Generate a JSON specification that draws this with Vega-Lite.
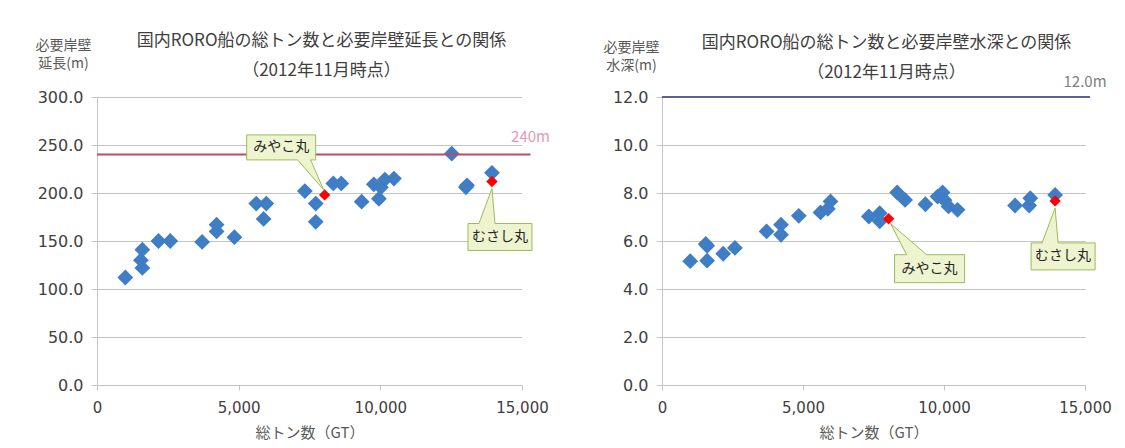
{
  "$schema": "https://vega.github.io/schema/vega-lite/v6.json",
  "background": "white",
  "padding": {"left": 35, "top": 32, "right": 0, "bottom": 0},
  "spacing": 140,
  "bounds": "flush",
  "datasets": {
    "ships": [
      {"gt": 1000, "len": 112, "depth": 5.16, "name": null},
      {"gt": 1550, "len": 130, "depth": 5.88, "name": null},
      {"gt": 1600, "len": 141, "depth": 5.8, "name": null},
      {"gt": 1600, "len": 122, "depth": 5.18, "name": null},
      {"gt": 2170, "len": 150, "depth": 5.47, "name": null},
      {"gt": 2585, "len": 150, "depth": 5.71, "name": null},
      {"gt": 3710, "len": 149, "depth": 6.4, "name": null},
      {"gt": 4220, "len": 167, "depth": 6.68, "name": null},
      {"gt": 4220, "len": 160, "depth": 6.26, "name": null},
      {"gt": 4850, "len": 154, "depth": 7.05, "name": null},
      {"gt": 5620, "len": 189, "depth": 7.19, "name": null},
      {"gt": 5975, "len": 189, "depth": 7.65, "name": null},
      {"gt": 5880, "len": 173, "depth": 7.34, "name": null},
      {"gt": 7335, "len": 202, "depth": 7.02, "name": null},
      {"gt": 7720, "len": 189, "depth": 7.16, "name": null},
      {"gt": 7720, "len": 170, "depth": 6.82, "name": null},
      {"gt": 8035, "len": 198, "depth": 6.93, "name": "みやこ丸"},
      {"gt": 8340, "len": 210, "depth": 8.02, "name": null},
      {"gt": 8620, "len": 210, "depth": 7.71, "name": null},
      {"gt": 9340, "len": 191, "depth": 7.53, "name": null},
      {"gt": 9770, "len": 209, "depth": 7.85, "name": null},
      {"gt": 9950, "len": 194, "depth": 8.02, "name": null},
      {"gt": 10020, "len": 206, "depth": 7.7, "name": null},
      {"gt": 10160, "len": 214, "depth": 7.44, "name": null},
      {"gt": 10480, "len": 215, "depth": 7.3, "name": null},
      {"gt": 12520, "len": 241, "depth": 7.48, "name": null},
      {"gt": 13020, "len": 206, "depth": 7.48, "name": null},
      {"gt": 13060, "len": 208, "depth": 7.78, "name": null},
      {"gt": 13940, "len": 221, "depth": 7.92, "name": null},
      {"gt": 13940, "len": 212, "depth": 7.67, "name": "むさし丸"}
    ]
  },
  "config": {
    "view": {"stroke": null},
    "font": "Noto Sans CJK JP",
    "axis": {
      "gridColor": "#c4c4c4",
      "domainColor": "#c4c4c4",
      "tickColor": "#c4c4c4",
      "labelFont": "DejaVu Sans",
      "labelColor": "#404040",
      "titleFont": "Noto Sans CJK JP",
      "titleFontWeight": "normal",
      "titleColor": "#595959"
    },
    "title": {"font": "Noto Sans CJK JP", "fontWeight": "normal", "color": "#404040", "fontSize": 17, "lineHeight": 30}
  },
  "hconcat": [
    {
      "width": 425,
      "height": 288,
      "data": {"name": "ships"},
      "title": {"text": ["国内RORO船の総トン数と必要岸壁延長との関係", "（2012年11月時点）"], "frame": "group", "anchor": "middle", "dx": 12, "offset": -42},
      "layer": [
        {
          "transform": [{"filter": "!datum.name"}],
          "mark": {"type": "point", "shape": "diamond", "size": 250, "filled": true, "color": "#3f7dc4", "opacity": 1},
          "encoding": {
            "x": {"field": "gt", "type": "quantitative", "scale": {"domain": [0, 15000], "nice": false},
              "axis": {"values": [0, 5000, 10000, 15000], "labelExpr": "format(datum.value, ',')", "title": "総トン数（GT）", "titleFontSize": 15, "titlePadding": 10, "labelFontSize": 15, "labelPadding": 10, "tickSize": 5, "grid": false, "labelFlush": false}},
            "y": {"field": "len", "type": "quantitative", "scale": {"domain": [0, 300], "nice": false},
              "axis": {"values": [0, 50, 100, 150, 200, 250, 300], "labelExpr": "format(datum.value, '.1f')", "title": ["必要岸壁", "延長(m)"], "titleAngle": 0, "titleX": -34, "titleY": -59, "titleAlign": "center", "titleBaseline": "top", "titleFontSize": 14, "titleLineHeight": 18, "labelFontSize": 16, "labelPadding": 8, "tickSize": 6, "grid": true}}
          }
        },
        {
          "data": {"values": [{}]},
          "mark": {"type": "rule", "color": "#bf4a64", "strokeWidth": 2},
          "encoding": {"x": {"datum": 0}, "x2": {"datum": 15300}, "y": {"datum": 240}}
        },
        {
          "data": {"values": [{}]},
          "mark": {"type": "text", "color": "#e39ab0", "fontSize": 15, "dy": -18},
          "encoding": {"x": {"datum": 15300}, "y": {"datum": 240}, "text": {"value": "240m"}}
        },
        {
          "transform": [{"filter": "datum.name"}],
          "mark": {"type": "point", "shape": "diamond", "size": 130, "filled": true, "color": "#ff0000", "opacity": 1},
          "encoding": {"x": {"field": "gt", "type": "quantitative"}, "y": {"field": "len", "type": "quantitative"}}
        },
        {
          "transform": [{"filter": "datum.name == 'みやこ丸'"}],
          "mark": {"type": "point", "shape": "M-78,-60 L-9,-60 L-9,-35 L-14,-35 L-1,-5 L-27,-35 L-78,-35 Z", "size": 4, "filled": true, "fill": "#edf4cf", "stroke": "#9bbb59", "strokeWidth": 1, "fillOpacity": 1, "strokeOpacity": 1},
          "encoding": {"x": {"field": "gt", "type": "quantitative"}, "y": {"field": "len", "type": "quantitative"}}
        },
        {
          "transform": [{"filter": "datum.name == 'みやこ丸'"}],
          "mark": {"type": "text", "dx": -43.5, "dy": -47.5, "fontSize": 14, "color": "#262626"},
          "encoding": {"x": {"field": "gt", "type": "quantitative"}, "y": {"field": "len", "type": "quantitative"}, "text": {"field": "name"}}
        },
        {
          "transform": [{"filter": "datum.name == 'むさし丸'"}],
          "mark": {"type": "point", "shape": "M-24,42 L-13,42 L0,7 L3,42 L40,42 L40,69 L-24,69 Z", "size": 4, "filled": true, "fill": "#edf4cf", "stroke": "#9bbb59", "strokeWidth": 1, "fillOpacity": 1, "strokeOpacity": 1},
          "encoding": {"x": {"field": "gt", "type": "quantitative"}, "y": {"field": "len", "type": "quantitative"}}
        },
        {
          "transform": [{"filter": "datum.name == 'むさし丸'"}],
          "mark": {"type": "text", "dx": 8, "dy": 55.5, "fontSize": 14, "color": "#262626"},
          "encoding": {"x": {"field": "gt", "type": "quantitative"}, "y": {"field": "len", "type": "quantitative"}, "text": {"field": "name"}}
        }
      ]
    },
    {
      "width": 423,
      "height": 288,
      "data": {"name": "ships"},
      "title": {"text": ["国内RORO船の総トン数と必要岸壁水深との関係", "（2012年11月時点）"], "frame": "group", "anchor": "middle", "dx": 13, "offset": -42},
      "layer": [
        {
          "transform": [{"filter": "!datum.name"}],
          "mark": {"type": "point", "shape": "diamond", "size": 250, "filled": true, "color": "#3f7dc4", "opacity": 1},
          "encoding": {
            "x": {"field": "gt", "type": "quantitative", "scale": {"domain": [0, 15000], "nice": false},
              "axis": {"values": [0, 5000, 10000, 15000], "labelExpr": "format(datum.value, ',')", "title": "総トン数（GT）", "titleFontSize": 15, "titlePadding": 10, "labelFontSize": 15, "labelPadding": 10, "tickSize": 5, "grid": false, "labelFlush": false}},
            "y": {"field": "depth", "type": "quantitative", "scale": {"domain": [0, 12], "nice": false},
              "axis": {"values": [0, 2, 4, 6, 8, 10, 12], "labelExpr": "format(datum.value, '.1f')", "title": ["必要岸壁", "水深(m)"], "titleAngle": 0, "titleX": -31, "titleY": -57, "titleAlign": "center", "titleBaseline": "top", "titleFontSize": 14, "titleLineHeight": 18, "labelFontSize": 16, "labelPadding": 8, "tickSize": 6, "grid": true}}
          }
        },
        {
          "data": {"values": [{}]},
          "mark": {"type": "rule", "color": "#5a5f9e", "strokeWidth": 2},
          "encoding": {"x": {"datum": 0}, "x2": {"datum": 15180}, "y": {"datum": 12}}
        },
        {
          "data": {"values": [{}]},
          "mark": {"type": "text", "color": "#808080", "fontSize": 15, "dy": -15},
          "encoding": {"x": {"datum": 15000}, "y": {"datum": 12}, "text": {"value": "12.0m"}}
        },
        {
          "transform": [{"filter": "datum.name"}],
          "mark": {"type": "point", "shape": "diamond", "size": 130, "filled": true, "color": "#ff0000", "opacity": 1},
          "encoding": {"x": {"field": "gt", "type": "quantitative"}, "y": {"field": "depth", "type": "quantitative"}}
        },
        {
          "transform": [{"filter": "datum.name == 'みやこ丸'"}],
          "mark": {"type": "point", "shape": "M6,36 L18,36 L2,5 L38,36 L76,36 L76,64 L6,64 Z", "size": 4, "filled": true, "fill": "#edf4cf", "stroke": "#9bbb59", "strokeWidth": 1, "fillOpacity": 1, "strokeOpacity": 1},
          "encoding": {"x": {"field": "gt", "type": "quantitative"}, "y": {"field": "depth", "type": "quantitative"}}
        },
        {
          "transform": [{"filter": "datum.name == 'みやこ丸'"}],
          "mark": {"type": "text", "dx": 41, "dy": 50, "fontSize": 14, "color": "#262626"},
          "encoding": {"x": {"field": "gt", "type": "quantitative"}, "y": {"field": "depth", "type": "quantitative"}, "text": {"field": "name"}}
        },
        {
          "transform": [{"filter": "datum.name == 'むさし丸'"}],
          "mark": {"type": "point", "shape": "M-24,42 L-13,42 L0,7 L3,42 L40,42 L40,69 L-24,69 Z", "size": 4, "filled": true, "fill": "#edf4cf", "stroke": "#9bbb59", "strokeWidth": 1, "fillOpacity": 1, "strokeOpacity": 1},
          "encoding": {"x": {"field": "gt", "type": "quantitative"}, "y": {"field": "depth", "type": "quantitative"}}
        },
        {
          "transform": [{"filter": "datum.name == 'むさし丸'"}],
          "mark": {"type": "text", "dx": 8, "dy": 55.5, "fontSize": 14, "color": "#262626"},
          "encoding": {"x": {"field": "gt", "type": "quantitative"}, "y": {"field": "depth", "type": "quantitative"}, "text": {"field": "name"}}
        }
      ]
    }
  ]
}
